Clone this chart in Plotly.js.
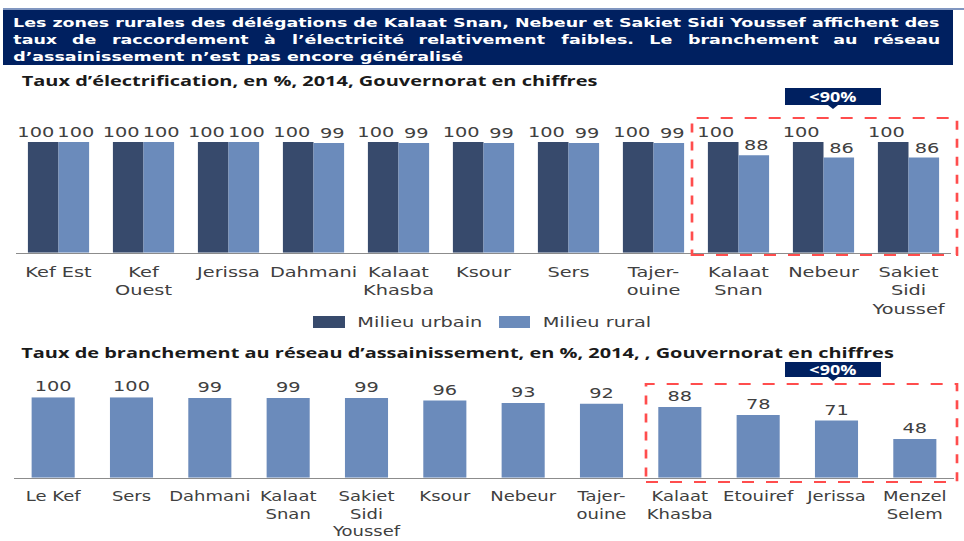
<!DOCTYPE html>
<html>
<head>
<meta charset="utf-8">
<script src="https://cdn.plot.ly/plotly-3.0.1.min.js"></script>
<style>
html,body{margin:0;padding:0;background:#fff;overflow:hidden;}
#chart{width:723px;height:541px;transform:scaleX(1.33333);transform-origin:0 0;}
</style>
</head>
<body>
<div id="chart"></div>
<script>
// ---- data ----
const headerLines = [
  'Les zones rurales des délégations de Kalaat Snan, Nebeur et Sakiet Sidi Youssef affichent des',
  'taux de raccordement à l’électricité relativement faibles. Le branchement au réseau',
  'd’assainissement n’est pas encore généralisé'
];
const title1 = 'Taux d’électrification, en %, 2014, Gouvernorat en chiffres';
const title2 = 'Taux de branchement au réseau d’assainissement, en %, 2014, , Gouvernorat en chiffres';
const seriesNames = ['Milieu urbain', 'Milieu rural'];
const elecCategories = ['Kef Est','Kef<br>Ouest','Jerissa','Dahmani','Kalaat<br>Khasba','Ksour','Sers','Tajer-<br>ouine','Kalaat<br>Snan','Nebeur','Sakiet<br>Sidi<br>Youssef'];
const elecUrban = [100,100,100,100,100,100,100,100,100,100,100];
const elecRural = [100,100,100,99,99,99,99,99,88,86,86];
const sanCategories = ['Le Kef','Sers','Dahmani','Kalaat<br>Snan','Sakiet<br>Sidi<br>Youssef','Ksour','Nebeur','Tajer-<br>ouine','Kalaat<br>Khasba','Etouiref','Jerissa','Menzel<br>Selem'];
const sanValues = [100,100,99,99,99,96,93,92,88,78,71,48];
const badgeText = '<90%';

// ---- geometry helpers (reference pixels -> paper) ----
const S = 4/3;
const W = 964 / S, H = 541;
const fx = px => px / 964;
const fy = py => 1 - py / 541;

const DARK = '#374a6c', LIGHT = '#6b8bbb', NAVY = '#002060', RED = '#ff4d4d';
const TXT = '#404040';
const CHARTFONT = 'DejaVu Sans';
const HFONT = 'DejaVu Sans';
const TFONT = 'Open Sans';

const ctx = document.createElement('canvas').getContext('2d');
function tw(text, size, family, weight) {
  ctx.font = weight + ' ' + size + 'px "' + family + '"';
  return ctx.measureText(text).width;
}

// header font size so line 1 spans the box
const hx0 = 12, hx1 = 939;
const hTarget = (hx1 - hx0) / S;
let hs = 100 * hTarget / tw(headerLines[0], 100, HFONT, 'bold');
hs = Math.min(hs, 14);

const annotations = [];
const hY = [22.5, 39.5, 56.5];
function addText(text, xpx, ypx, size, color, family, weight, anchor) {
  annotations.push({
    xref: 'paper', yref: 'paper', x: fx(xpx), y: fy(ypx),
    xanchor: anchor || 'left', yanchor: 'middle', showarrow: false,
    text: text, borderpad: 0,
    font: {family: family, size: size, color: color, weight: weight}
  });
}
addText(headerLines[0], hx0, hY[0], hs, '#ffffff', HFONT, 700);
// line 2 justified word by word
(function () {
  const words = headerLines[1].split(' ');
  const ws = words.map(w => tw(w, hs, HFONT, 'bold'));
  const sum = ws.reduce((a, b) => a + b, 0);
  const gap = (hTarget - sum) / (words.length - 1);
  let cum = 0;
  words.forEach((w, i) => {
    addText(w, hx0 + S * cum, hY[1], hs, '#ffffff', HFONT, 700);
    cum += ws[i] + gap;
  });
})();
addText(headerLines[2], hx0, hY[2], hs, '#ffffff', HFONT, 700);

// subtitles
function fitSize(text, x0, x1, family) {
  return Math.min(15, 100 * ((x1 - x0) / S) / tw(text, 100, family, 'bold'));
}
addText(title1, 20, 80, fitSize(title1, 20, 597, TFONT), '#1a1a1a', TFONT, 700);
addText(title2, 20, 352, fitSize(title2, 20, 893, TFONT), '#1a1a1a', TFONT, 700);

// badges
addText(badgeText, 833, 96.5, 13.5, '#ffffff', TFONT, 700, 'center');
addText(badgeText, 833, 369.5, 13.5, '#ffffff', TFONT, 700, 'center');

// legend labels
addText(seriesNames[0], 356, 322, 14.5, TXT, CHARTFONT, 400);
addText(seriesNames[1], 541, 322, 14.5, TXT, CHARTFONT, 400);

// value labels of the electrification chart (placed on the data scales)
const valFont = {family: CHARTFONT, size: 14.5, color: TXT};
elecCategories.forEach((c, i) => {
  annotations.push({xref: 'x', yref: 'y', x: i - 0.18, y: elecUrban[i], text: String(elecUrban[i]),
    xshift: -5, yshift: 1, xanchor: 'center', yanchor: 'bottom', showarrow: false, borderpad: 0, font: valFont});
  annotations.push({xref: 'x', yref: 'y', x: i + 0.18, y: elecRural[i], text: String(elecRural[i]),
    xshift: 2, yshift: 1, xanchor: 'center', yanchor: 'bottom', showarrow: false, borderpad: 0, font: valFont});
});

function rect(x0, y0, x1, y1, fill, line) {
  return {type: 'rect', xref: 'paper', yref: 'paper', layer: 'below',
    x0: fx(x0), x1: fx(x1), y0: fy(y1), y1: fy(y0),
    fillcolor: fill || 'rgba(0,0,0,0)', line: line || {width: 0}};
}
function tri(xm, ytop, half, h, fill) {
  return {type: 'path', xref: 'paper', yref: 'paper',
    path: 'M' + fx(xm - half) + ',' + fy(ytop) + ' L' + fx(xm + half) + ',' + fy(ytop) + ' L' + fx(xm) + ',' + fy(ytop + h) + ' Z',
    fillcolor: fill, line: {width: 0}};
}
const shapes = [
  {type: 'line', xref: 'paper', yref: 'paper', x0: fx(3), x1: fx(964), y0: fy(9), y1: fy(9), line: {color: '#8096c0', width: 2}},
  rect(3, 10, 953, 65, NAVY),
  rect(785, 88, 881, 105, NAVY),
  tri(833, 105, 5, 4, NAVY),
  {type: 'rect', xref: 'paper', yref: 'paper', x0: fx(692), x1: fx(957), y0: fy(255), y1: fy(118),
    line: {color: RED, width: 2, dash: 'dash'}, fillcolor: 'rgba(0,0,0,0)', layer: 'above'},
  rect(785, 362, 881, 377, NAVY),
  tri(833, 377, 5, 4, NAVY),
  {type: 'rect', xref: 'paper', yref: 'paper', x0: fx(646), x1: fx(957), y0: fy(482), y1: fy(384),
    line: {color: RED, width: 2, dash: 'dash'}, fillcolor: 'rgba(0,0,0,0)', layer: 'above'},
  rect(313, 316, 345, 328, DARK),
  rect(499, 316, 530, 328, LIGHT)
];

const traces = [
  {type: 'bar', x: elecCategories, y: elecUrban, name: seriesNames[0], xaxis: 'x', yaxis: 'y',
   marker: {color: DARK}, width: 0.36, offset: -0.36, hoverinfo: 'skip'},
  {type: 'bar', x: elecCategories, y: elecRural, name: seriesNames[1], xaxis: 'x', yaxis: 'y',
   marker: {color: LIGHT}, width: 0.36, offset: 0, hoverinfo: 'skip'},
  {type: 'bar', x: sanCategories, y: sanValues, name: 'Assainissement', xaxis: 'x2', yaxis: 'y2',
   marker: {color: LIGHT}, width: 0.55,
   texttemplate: '%{y}', textposition: 'outside', textfont: valFont, cliponaxis: false, hoverinfo: 'skip'}
];

const xcommon = {type: 'category', showgrid: false, zeroline: false, showline: true,
  linecolor: '#8c8c8c', linewidth: 1.5, ticks: '', fixedrange: true};
const ycommon = {visible: false, range: [0, 100], fixedrange: true, showgrid: false, zeroline: false};

const layout = {
  width: W, height: H,
  margin: {l: 0, r: 0, t: 0, b: 0, pad: 0},
  paper_bgcolor: '#ffffff', plot_bgcolor: 'rgba(0,0,0,0)',
  showlegend: false, barmode: 'overlay',
  xaxis: Object.assign({}, xcommon, {domain: [fx(16), fx(951)], anchor: 'y', ticklabelstandoff: 5,
    tickfont: {family: CHARTFONT, size: 14.5, color: TXT}}),
  yaxis: Object.assign({}, ycommon, {domain: [fy(252.7), fy(142)], anchor: 'x'}),
  xaxis2: Object.assign({}, xcommon, {domain: [fx(14), fx(954)], anchor: 'y2', ticklabelstandoff: 6,
    tickfont: {family: CHARTFONT, size: 13.5, color: TXT}}),
  yaxis2: Object.assign({}, ycommon, {domain: [fy(477.7), fy(397.3)], anchor: 'x2'}),
  shapes: shapes,
  annotations: annotations
};

Plotly.newPlot('chart', traces, layout, {displayModeBar: false, staticPlot: true});
</script>
</body>
</html>
